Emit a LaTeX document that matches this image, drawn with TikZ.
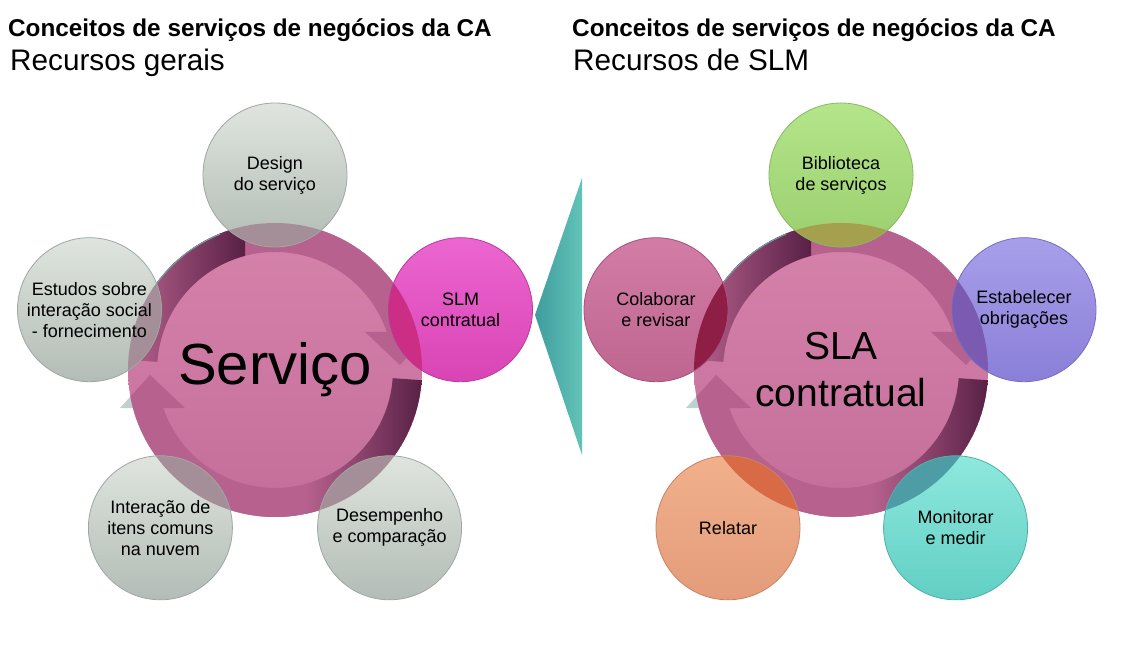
\documentclass[tikz,border=0pt]{standalone}
\usepackage{fontspec}
\setmainfont{Liberation Sans}
\definecolor{pkTop}{HTML}{D683AC}
\definecolor{pkBot}{HTML}{C36E99}
\definecolor{ringPk}{HTML}{B7628E}
\definecolor{maroonD}{HTML}{582045}
\definecolor{underC}{HTML}{BFD1D0}
\definecolor{rimC}{HTML}{6E9FA3}
\definecolor{gTop}{HTML}{DFE4DE}\definecolor{gBot}{HTML}{B3BCB6}\definecolor{gEdge}{HTML}{9EA7A1}\definecolor{gOv}{HTML}{A48E98}
\definecolor{mTop}{HTML}{EC66D0}\definecolor{mBot}{HTML}{D944B4}\definecolor{mEdge}{HTML}{B93A9B}\definecolor{mOv}{HTML}{CC2E86}
\definecolor{grTop}{HTML}{B4E58A}\definecolor{grBot}{HTML}{9ACF6E}\definecolor{grEdge}{HTML}{89B862}\definecolor{grOv}{HTML}{A5A04E}
\definecolor{lTop}{HTML}{A89FEA}\definecolor{lBot}{HTML}{8A7FD8}\definecolor{lEdge}{HTML}{776CC0}\definecolor{lOv}{HTML}{7B5AB2}
\definecolor{cTop}{HTML}{D27CA6}\definecolor{cBot}{HTML}{BE6690}\definecolor{cEdge}{HTML}{A4537B}\definecolor{cOv}{HTML}{8E1E45}
\definecolor{oTop}{HTML}{F1B08B}\definecolor{oBot}{HTML}{E49C7B}\definecolor{oEdge}{HTML}{C88265}\definecolor{oOv}{HTML}{D86A46}
\definecolor{aTop}{HTML}{8EE8DD}\definecolor{aBot}{HTML}{62CFC4}\definecolor{aEdge}{HTML}{4FB0A6}\definecolor{aOv}{HTML}{4E9DA6}
\definecolor{tL}{HTML}{3F9C9E}\definecolor{tR}{HTML}{62C4B8}
\begin{document}
\begin{tikzpicture}[x=1pt,y=1pt,
  arrowpath/.style={insert path={(-4:147) arc[start angle=-4, end angle=-165, radius=147] -- (-155,-38) -- (-125,-5) -- (-90,-38) -- (-161.2:118) arc[start angle=-161.2, end angle=-4, radius=118] -- cycle}},
  bigc/.style={circle, minimum size=294pt, inner sep=0pt, outer sep=0pt, top color=pkTop, bottom color=pkBot},
  bigtext/.style={align=center, text=black, inner sep=0pt},
  sat/.style={circle, minimum size=144pt, inner sep=0pt, outer sep=0pt, line width=0.8pt, align=center, text=black, font=\fontsize{18}{21}\selectfont},
  title/.style={anchor=base west, inner sep=0pt, font=\fontsize{24.3}{28}\selectfont\bfseries},
  subtitle/.style={anchor=base west, inner sep=0pt, font=\fontsize{29.7}{33}\selectfont}
]
\useasboundingbox (0,0) rectangle (1145,668);
\fill[white] (0,0) rectangle (1145,668);

% titles
\node[title] (t1) at (8,631) {Conceitos de serviços de negócios da CA};
\node[subtitle] (s1) at (10,597) {Recursos gerais};
\node[title] (t2) at (572,631) {Conceitos de serviços de negócios da CA};
\node[subtitle] (s2) at (573,597) {Recursos de SLM};

% arrows under the big circles
\foreach \cx in {275,841} {
  \begin{scope}[shift={(\cx,298)}]
    \foreach \r in {0,180} {
      \begin{scope}[rotate=\r]
        \fill[underC, arrowpath];
      \end{scope}
    }
  \end{scope}
}

% big circles
\node[bigc] (serv) at (275,298) {};
\node[bigc] (sla) at (841,298) {};

% circular arrows inside the big circles
\foreach \cx/\nm in {275/serv,841/sla} {
  \begin{scope}
    \clip (\nm.center) circle (147);
    \begin{scope}[shift={(\cx,298)}]
      \foreach \r in {0,180} {
        \begin{scope}[rotate=\r]
          \fill[ringPk, arrowpath];
          \begin{scope}
            \clip[arrowpath];
            \shade[left color=ringPk, right color=maroonD] (30,-150) rectangle (148,0);
          \end{scope}
        \end{scope}
      }
      \draw[rimC, line width=1.2pt] (112:146.6) arc[start angle=112, end angle=172, radius=146.6];
    \end{scope}
  \end{scope}
}

\node[bigtext, font=\fontsize{58}{60}\selectfont] (servtxt) at (serv.center) {Serviço};
\node[bigtext, font=\fontsize{39}{47}\selectfont] (slatxt) at (sla.center) {SLA\\contratual};

% left satellites
\node[sat, top color=gTop, bottom color=gBot, draw=gEdge, path picture={\fill[gOv] (serv.center) circle (147);}] (design) at (275,493) {Design\\do serviço};
\node[sat, top color=mTop, bottom color=mBot, draw=mEdge, path picture={\fill[mOv] (serv.center) circle (147);}] (slm) at (460.5,358.3) {SLM\\contratual};
\node[sat, top color=gTop, bottom color=gBot, draw=gEdge, path picture={\fill[gOv] (serv.center) circle (147);}] (estudos) at (89.5,358.3) {Estudos sobre\\interação social\\- fornecimento};
\node[sat, top color=gTop, bottom color=gBot, draw=gEdge, path picture={\fill[gOv] (serv.center) circle (147);}] (desemp) at (389.6,140.2) {Desempenho\\e comparação};
\node[sat, top color=gTop, bottom color=gBot, draw=gEdge, path picture={\fill[gOv] (serv.center) circle (147);}] (inter) at (160.4,140.2) {Interação de\\itens comuns\\na nuvem};

% right satellites
\node[sat, top color=grTop, bottom color=grBot, draw=grEdge, path picture={\fill[grOv] (sla.center) circle (147);}] (biblio) at (841,493) {Biblioteca\\de serviços};
\node[sat, top color=lTop, bottom color=lBot, draw=lEdge, path picture={\fill[lOv] (sla.center) circle (147);}] (estab) at (1024,358.3) {Estabelecer\\obrigações};
\node[sat, top color=cTop, bottom color=cBot, draw=cEdge, path picture={\fill[cOv] (sla.center) circle (147);}] (colab) at (656,358.3) {Colaborar\\e revisar};
\node[sat, top color=aTop, bottom color=aBot, draw=aEdge, path picture={\fill[aOv] (sla.center) circle (147);}] (monit) at (955.6,140.2) {Monitorar\\e medir};
\node[sat, top color=oTop, bottom color=oBot, draw=oEdge, path picture={\fill[oOv] (sla.center) circle (147);}] (relat) at (728,140.2) {Relatar};

% teal separator
\shade[left color=tL, right color=tR] (535,353) -- (582,490) -- (582,213) -- cycle;
\end{tikzpicture}
\end{document}
